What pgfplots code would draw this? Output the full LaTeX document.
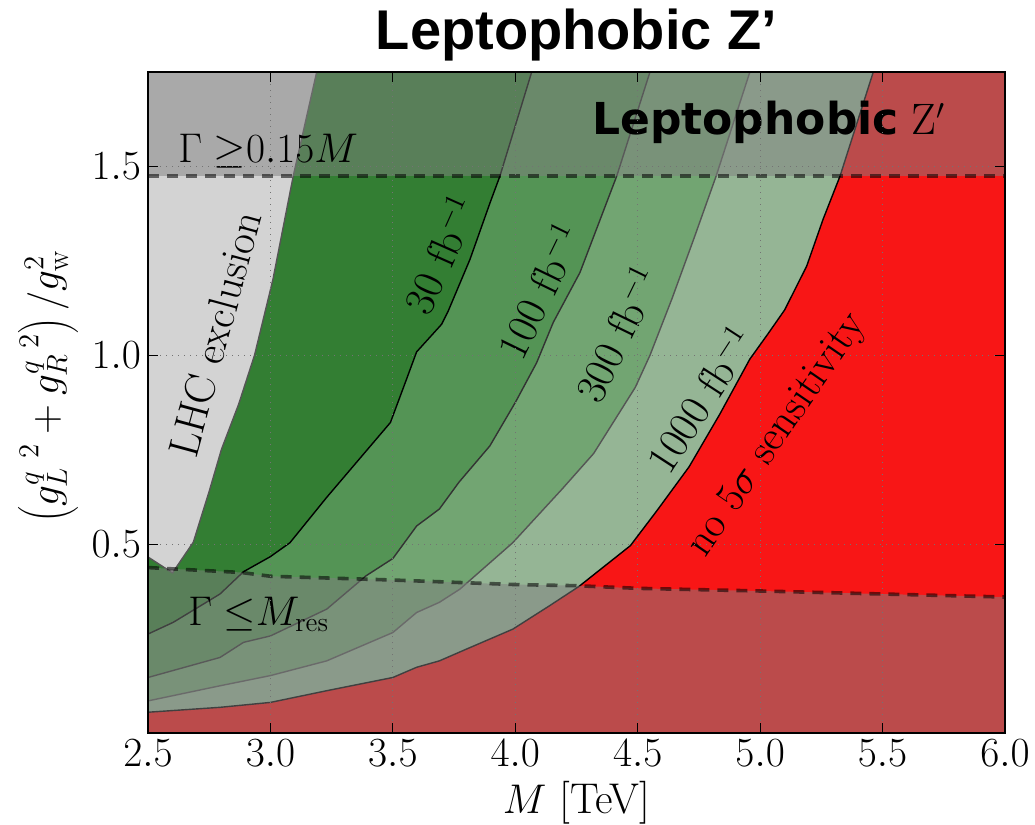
\documentclass[border=0pt]{standalone}
\usepackage{fontspec}
\usepackage{pgfplots}
\pgfplotsset{compat=1.18}
\newfontfamily\libsans{Liberation Sans}
\newfontfamily\dejavu{DejaVu Sans}
\definecolor{cthirty}{RGB}{51,126,51}
\definecolor{chund}{RGB}{84,148,85}
\definecolor{cthree}{RGB}{114,165,114}
\definecolor{cthou}{RGB}{149,181,149}
\definecolor{cred}{RGB}{248,22,22}
\definecolor{clhc}{RGB}{211,211,211}
\definecolor{cline}{RGB}{85,85,85}
\begin{document}
\begin{tikzpicture}
\begin{axis}[name=ax, scale only axis, width=428.5pt, height=330.5pt,
  xmin=2.5, xmax=6, ymin=0, ymax=1.75,
  xtick={2.5,3,3.5,4,4.5,5,5.5,6}, ytick={0.5,1,1.5},
  tick label style={font=\fontsize{19.5}{23}\selectfont,
    /pgf/number format/fixed, /pgf/number format/fixed zerofill, /pgf/number format/precision=1},
  tick align=inside, major tick length=5pt,
  tick style={black, line width=0.6pt},
  axis line style={black, line width=1pt},
  grid=major,
  major grid style={black!55, line width=0.6pt, dash pattern=on 0.6pt off 2.4pt},
  axis on top,
]
% background: no sensitivity
\addplot[fill=cred, draw=none] coordinates {(2.5,0) (6,0) (6,1.75) (2.5,1.75)} -- cycle;
% 1000 fb^-1 region
\addplot[fill=cthou, draw=none] coordinates {(2.5,0.055) (2.794,0.068) (3.0,0.081) (3.23,0.112) (3.50,0.147) (3.597,0.174) (3.69,0.191) (3.80,0.222) (3.99,0.275) (4.14,0.337) (4.26,0.388) (4.47,0.496) (4.58,0.59) (4.71,0.705) (4.836,0.845) (4.958,0.99) (5.03,1.055) (5.1,1.12) (5.19,1.236) (5.257,1.36) (5.326,1.474) (5.462,1.75) (2.5,1.75)} -- cycle;
% 300
\addplot[fill=cthree, draw=none] coordinates {(2.5,0.085) (2.794,0.125) (3.0,0.152) (3.23,0.191) (3.50,0.266) (3.597,0.319) (3.69,0.346) (3.774,0.381) (3.99,0.504) (4.19,0.645) (4.32,0.74) (4.49,0.915) (4.55,1.0) (4.64,1.15) (4.73,1.31) (4.82,1.474) (4.958,1.75) (2.5,1.75)} -- cycle;
% 100
\addplot[fill=chund, draw=none] coordinates {(2.5,0.147) (2.794,0.200) (2.89,0.24) (3.0,0.257) (3.23,0.328) (3.39,0.416) (3.50,0.462) (3.597,0.548) (3.69,0.593) (3.77,0.664) (3.896,0.76) (4.0,0.875) (4.087,0.98) (4.155,1.087) (4.264,1.219) (4.414,1.474) (4.55,1.75) (2.5,1.75)} -- cycle;
% 30
\addplot[fill=cthirty, draw=none] coordinates {(2.5,0.262) (2.603,0.293) (2.794,0.368) (2.89,0.427) (3.0,0.467) (3.08,0.504) (3.23,0.624) (3.49,0.822) (3.556,0.937) (3.597,1.009) (3.699,1.082) (3.726,1.117) (3.815,1.254) (3.897,1.404) (3.937,1.474) (4.067,1.75) (2.5,1.75)} -- cycle;
% LHC exclusion
\addplot[fill=clhc, draw=none] coordinates {(2.5,0.466) (2.600,0.424) (2.685,0.505) (2.75,0.64) (2.80,0.751) (2.87,0.87) (2.935,1.0) (3.01,1.2) (3.093,1.474) (3.189,1.75) (2.5,1.75)} -- cycle;
% contour lines
\addplot[black, line width=0.7pt] coordinates {(2.5,0.055) (2.794,0.068) (3.0,0.081) (3.23,0.112) (3.50,0.147) (3.597,0.174) (3.69,0.191) (3.80,0.222) (3.99,0.275) (4.14,0.337) (4.26,0.388) (4.47,0.496) (4.58,0.59) (4.71,0.705) (4.836,0.845) (4.958,0.99) (5.03,1.055) (5.1,1.12) (5.19,1.236) (5.257,1.36) (5.326,1.474) (5.462,1.75)};
\addplot[cline, line width=0.7pt] coordinates {(2.5,0.085) (2.794,0.125) (3.0,0.152) (3.23,0.191) (3.50,0.266) (3.597,0.319) (3.69,0.346) (3.774,0.381) (3.99,0.504) (4.19,0.645) (4.32,0.74) (4.49,0.915) (4.55,1.0) (4.64,1.15) (4.73,1.31) (4.82,1.474) (4.958,1.75)};
\addplot[black!80, line width=0.7pt] coordinates {(2.5,0.147) (2.794,0.200) (2.89,0.24) (3.0,0.257) (3.23,0.328) (3.39,0.416) (3.50,0.462) (3.597,0.548) (3.69,0.593) (3.77,0.664) (3.896,0.76) (4.0,0.875) (4.087,0.98) (4.155,1.087) (4.264,1.219) (4.414,1.474) (4.55,1.75)};
\addplot[black, line width=0.7pt] coordinates {(2.5,0.262) (2.603,0.293) (2.794,0.368) (2.89,0.427) (3.0,0.467) (3.08,0.504) (3.23,0.624) (3.49,0.822) (3.556,0.937) (3.597,1.009) (3.699,1.082) (3.726,1.117) (3.815,1.254) (3.897,1.404) (3.937,1.474) (4.067,1.75)};
\addplot[cline, line width=0.7pt] coordinates {(2.5,0.466) (2.600,0.424) (2.685,0.505) (2.75,0.64) (2.80,0.751) (2.87,0.87) (2.935,1.0) (3.01,1.2) (3.093,1.474) (3.189,1.75)};
% width overlays
\addplot[fill=gray, fill opacity=0.5, draw=none] coordinates {(2.5,1.474) (6,1.474) (6,1.75) (2.5,1.75)} -- cycle;
\addplot[fill=gray, fill opacity=0.5, draw=none] coordinates {(2.5,0) (6,0) (6,0.36) (5.5,0.368) (5.0,0.376) (4.5,0.383) (4.25,0.39) (4.0,0.393) (3.5,0.405) (3.0,0.415) (2.88,0.425) (2.5,0.438)} -- cycle;
\addplot[black, opacity=0.55, line width=1.8pt, dash pattern=on 5.5pt off 4pt] coordinates {(2.5,1.474) (6,1.474)};
\addplot[black, opacity=0.55, line width=1.8pt, dash pattern=on 5.5pt off 4pt] coordinates {(2.5,0.438) (2.88,0.425) (3.0,0.415) (3.5,0.405) (4.0,0.393) (4.25,0.39) (4.5,0.383) (5.0,0.376) (5.5,0.368) (6,0.36)};
% texts
\node[anchor=base west, inner sep=0pt, font=\fontsize{22}{26}\selectfont] at (axis cs:4.313,1.585) {{\dejavu\bfseries Leptophobic} $\mathrm{Z}'$};
\node[anchor=base west, inner sep=0pt, font=\fontsize{19.5}{23}\selectfont] at (axis cs:2.6225,1.5106) {$\Gamma\mskip5mu{\geq}0.15M$};
\node[anchor=base west, inner sep=0pt, font=\fontsize{19.5}{23}\selectfont] at (axis cs:2.663,0.284) {$\Gamma\mskip5mu{\leq}M_\mathrm{res}$};
\node[rotate=74.8, inner sep=0pt, font=\fontsize{21.5}{26}\selectfont] at (axis cs:2.774,1.056) {LHC exclusion};
\node[rotate=66, inner sep=0pt, font=\fontsize{21.5}{26}\selectfont] at (axis cs:3.6925,1.267) {30 fb$^{-1}$};
\node[rotate=64, inner sep=0pt, font=\fontsize{21.5}{26}\selectfont] at (axis cs:4.097,1.172) {100 fb$^{-1}$};
\node[rotate=64, inner sep=0pt, font=\fontsize{21.5}{26}\selectfont] at (axis cs:4.415,1.056) {300 fb$^{-1}$};
\node[rotate=57, inner sep=0pt, font=\fontsize{21.5}{26}\selectfont] at (axis cs:4.754,0.884) {1000 fb$^{-1}$};
\node[rotate=55.5, inner sep=0pt, font=\fontsize{21.5}{26}\selectfont] at (axis cs:5.073,0.788) {no $5\sigma$ sensitivity};
\end{axis}
\node[anchor=base, font=\libsans\bfseries\fontsize{28}{32}\selectfont] at ([yshift=11pt]ax.north) {Leptophobic Z’};
\node[anchor=base, font=\fontsize{21.5}{26}\selectfont] at ([yshift=-40pt]ax.south) {$M$ [TeV]};
\node[rotate=90, font=\fontsize{21.5}{26}\selectfont] at ([xshift=-50pt,yshift=8pt]ax.west) {$\left(g_L^{q\ 2}+g_R^{q\ 2}\right)/g_\mathrm{w}^2$};
\pgfresetboundingbox
\path ([shift={(-74pt,-45.5pt)}]ax.south west) rectangle ([shift={(15pt,36pt)}]ax.north east);
\end{tikzpicture}
\end{document}
